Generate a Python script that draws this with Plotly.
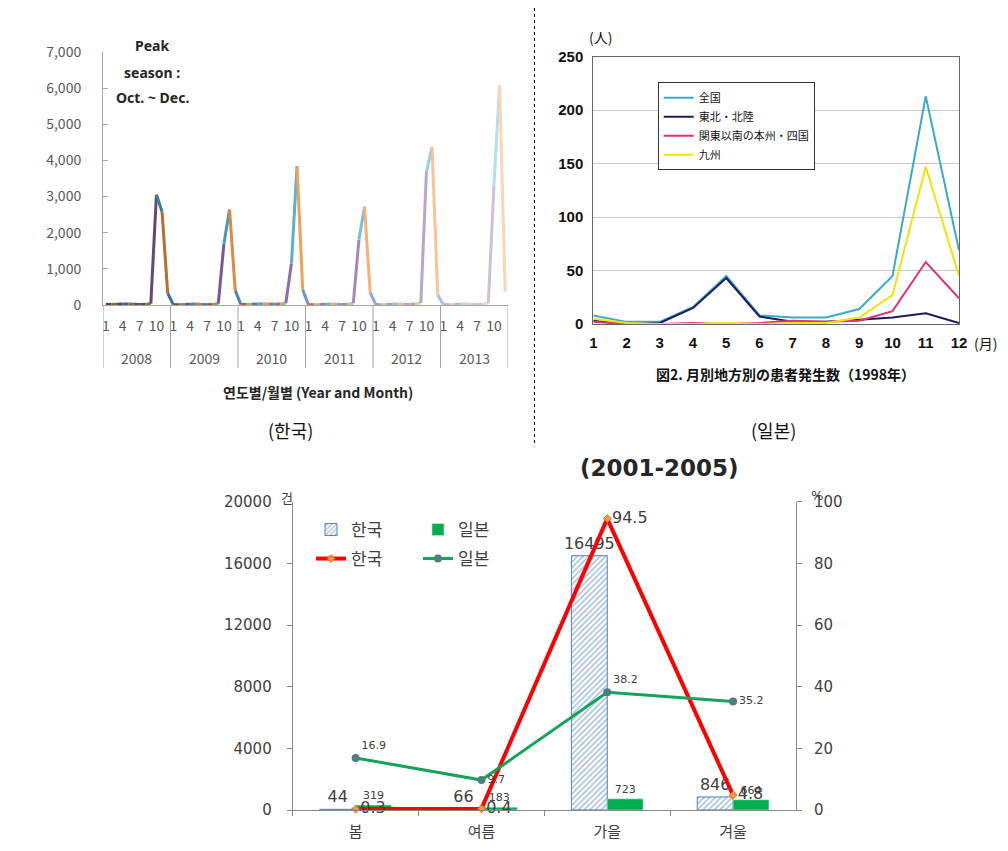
import plotly.graph_objects as go

# page body keeps its default 8px margin, so the figure is 16px smaller than the window
OFF = 8
W, H = 1008 - 2 * OFF, 851 - 2 * OFF
def PX(x): return (x - OFF) / W
def PY(y): return 1 - (y - OFF) / H

# ---------------- Panel 1 data : Korea monthly (2008-2013) ----------------
years = [2008, 2009, 2010, 2011, 2012, 2013]
month_ticks = [1, 4, 7, 10]
kr_2008 = [20, 15, 20, 25, 30, 20, 15, 15, 40, 3050, 2580, 330]
kr_2009 = [10, 10, 15, 20, 25, 15, 10, 15, 40, 1700, 2640, 410]
kr_2010 = [15, 15, 20, 30, 35, 25, 20, 30, 50, 1150, 3840, 430]
kr_2011 = [10, 10, 15, 20, 25, 20, 15, 20, 50, 1810, 2720, 340]
kr_2012 = [10, 10, 15, 20, 30, 20, 15, 25, 60, 3680, 4370, 280]
kr_2013 = [10, 10, 15, 20, 25, 20, 15, 20, 60, 3300, 6080, 370]
kr_monthly = kr_2008 + kr_2009 + kr_2010 + kr_2011 + kr_2012 + kr_2013

# ---------------- Panel 2 data : Japan 1998 by region ----------------
jp_months = list(range(1, 13))
jp_total   = [8, 2, 2, 16, 45, 8, 6, 6, 14, 45, 213, 69]
jp_tohoku  = [3, 0, 1, 15, 43, 7, 2, 2, 4, 6, 10, 1]
jp_kanto   = [2, 0, 0, 1, 0, 1, 3, 2, 3, 12, 58, 24]
jp_kyushu  = [5, 1, 0, 0, 1, 0, 1, 1, 6, 27, 147, 45]
jp_names = ["全国", "東北・北陸", "関東以南の本州・四国", "九州"]

# ---------------- Panel 3 data : seasons 2001-2005 ----------------
seasons = ["봄", "여름", "가을", "겨울"]
kr_cases = [44, 66, 16495, 846]
jp_cases = [319, 183, 723, 664]
kr_pct = [0.3, 0.4, 94.5, 4.8]
jp_pct = [16.9, 9.7, 38.2, 35.2]

KR_FONT = "Noto Sans CJK KR"
JP_FONT = "Noto Sans CJK JP"

fig = go.Figure()

# ---- Panel 1 traces: segment colours vary by point (Excel style) ----
accents = ["#4F81BD", "#C0504D", "#9BBB59", "#8064A2", "#4BACC6", "#F79646"]
def shade(hexc, t):
    r, g, b = int(hexc[1:3], 16), int(hexc[3:5], 16), int(hexc[5:7], 16)
    if t < 0:
        f = 1 + t
        r, g, b = r * f, g * f, b * f
    else:
        r, g, b = r + (255 - r) * t, g + (255 - g) * t, b + (255 - b) * t
    return "rgb(%d,%d,%d)" % (r, g, b)

ncycles = (len(kr_monthly) - 1) // 6
for n in range(1, len(kr_monthly)):
    c = n // 6
    col = shade(accents[n % 6], -0.35 + 0.95 * c / ncycles)
    fig.add_trace(go.Scatter(x=[n - 1, n], y=[kr_monthly[n - 1], kr_monthly[n]],
                             mode="lines", line=dict(color=col, width=3),
                             xaxis="x", yaxis="y", showlegend=False, hoverinfo="skip"))

# ---- Panel 2 traces ----
jp_colors = ["#3AAACC", "#1C1C5C", "#E2307C", "#F4E400"]
for name, vals, col in zip(jp_names, [jp_total, jp_tohoku, jp_kanto, jp_kyushu], jp_colors):
    fig.add_trace(go.Scatter(x=jp_months, y=vals, mode="lines", name=name,
                             line=dict(color=col, width=2), xaxis="x2", yaxis="y2",
                             legend="legend5"))

# ---- Panel 3 traces ----
fig.add_trace(go.Bar(x=seasons, y=kr_cases, name="한국", xaxis="x3", yaxis="y3",
                     marker=dict(color="white", line=dict(color="#4F81BD", width=1),
                                 pattern=dict(shape="/", fgcolor="#4F81BD", bgcolor="white",
                                              size=4, solidity=0.4)),
                     text=[str(v) for v in kr_cases], textposition="outside",
                     textfont=dict(family="DejaVu Sans", size=16, color="#404040"),
                     constraintext="none", cliponaxis=False, legend="legend"))
fig.add_trace(go.Bar(x=seasons, y=jp_cases, name="일본", xaxis="x3", yaxis="y3",
                     marker=dict(color="#00B050"),
                     text=[str(v) for v in jp_cases], textposition="outside",
                     textfont=dict(family="DejaVu Sans", size=11, color="#404040"),
                     constraintext="none", cliponaxis=False, legend="legend2"))
fig.add_trace(go.Scatter(x=seasons, y=kr_pct, name="한국", xaxis="x3", yaxis="y4",
                         mode="lines+markers+text",
                         line=dict(color="#FF0000", width=4),
                         marker=dict(symbol="diamond", size=6, color="#F79646",
                                     line=dict(color="#E46C0A", width=1)),
                         text=[str(v) for v in kr_pct], textposition="middle right",
                         textfont=dict(family="DejaVu Sans", size=16, color="#404040"),
                         cliponaxis=False, legend="legend3"))
fig.add_trace(go.Scatter(x=seasons, y=jp_pct, name="일본", xaxis="x3", yaxis="y4",
                         mode="lines+markers+text",
                         line=dict(color="#12A55A", width=3),
                         marker=dict(symbol="circle", size=8, color="#4E7E80"),
                         text=[str(v) for v in jp_pct],
                         textposition=["top right", "middle right", "top right", "middle right"],
                         textfont=dict(family="DejaVu Sans", size=11, color="#404040"),
                         cliponaxis=False, legend="legend4"))

grey = "#A6A6A6"
ann = []
shapes = []

def note(x, y, text, font, xref="paper"):
    ann.append(dict(x=x if xref != "paper" else PX(x), y=PY(y), xref=xref, yref="paper",
                    text=text, showarrow=False, xanchor="center", yanchor="middle", font=font))

# Panel 1 annotations
for k, yr in enumerate(years):
    note(12 * k + 5.5, 358, str(yr), dict(family=KR_FONT, size=14, color="#595959"), xref="x")
for k in range(len(years) + 1):
    shapes.append(dict(type="line", xref="x", yref="paper", x0=12 * k - 0.5, x1=12 * k - 0.5,
                       y0=PY(305), y1=PY(368), line=dict(color=grey, width=1)))
for txt, yy in [("Peak", 46), ("season :", 72), ("Oct. ~ Dec.", 98)]:
    note(152, yy, "<b>%s</b>" % txt, dict(family="Noto Sans", size=14, color="#262626"))
note(318, 392, "<b>연도별/월별 (Year and Month)</b>", dict(family=KR_FONT, size=14, color="#262626"))
note(290, 430, "(한국)", dict(family=KR_FONT, size=18, color="#111111"))

# Panel 2 annotations
note(600, 37, "(人)", dict(family=JP_FONT, size=14, color="#111111"))
note(985, 343, "(月)", dict(family=JP_FONT, size=14, color="#111111"))
note(785, 374, "<b>図2. 月別地方別の患者発生数（1998年）</b>", dict(family=JP_FONT, size=14, color="#111111"))
note(773, 430, "(일본)", dict(family=KR_FONT, size=18, color="#111111"))

# Panel 3 annotations
note(659, 468, "<b>(2001-2005)</b>", dict(family="DejaVu Sans", size=23, color="#262626"))
note(287, 497, "건", dict(family=KR_FONT, size=13, color="#404040"))
note(817, 495, "%", dict(family="DejaVu Sans", size=13, color="#404040"))

# separator
shapes.append(dict(type="line", xref="paper", yref="paper", x0=PX(534.5), x1=PX(534.5),
                   y0=1, y1=PY(445), line=dict(color="black", width=1, dash="dot")))

leg_common = dict(orientation="h", bgcolor="rgba(0,0,0,0)", xanchor="left", yanchor="middle",
                  font=dict(family=KR_FONT, size=17, color="#404040"))

fig.update_layout(
    width=W, height=H, autosize=False,
    margin=dict(l=0, r=0, t=0, b=0, autoexpand=False),
    paper_bgcolor="white", plot_bgcolor="white",
    barmode="group", bargap=0.43, bargroupgap=0,
    annotations=ann, shapes=shapes,
    xaxis=dict(domain=[PX(103), PX(508)], anchor="y", range=[-0.5, len(kr_monthly) - 0.5],
               tickvals=[12 * k + m - 1 for k in range(len(years)) for m in month_ticks],
               ticktext=[str(m) for k in range(len(years)) for m in month_ticks],
               showline=True, linecolor=grey, ticks="", showgrid=False, zeroline=False,
               ticklabelstandoff=8, automargin=False,
               tickfont=dict(family=KR_FONT, size=14, color="#595959")),
    yaxis=dict(domain=[PY(305), PY(52)], anchor="x", range=[0, 7000], dtick=1000,
               tickformat=",", ticks="inside", ticklen=5, tickcolor=grey,
               showline=True, linecolor=grey, showgrid=False, zeroline=False,
               ticklabelstandoff=18, automargin=False,
               tickfont=dict(family=KR_FONT, size=14, color="#595959")),
    xaxis2=dict(domain=[PX(593.3), PX(959)], anchor="y2", range=[1, 12], tickvals=jp_months,
                showline=True, mirror=True, linecolor="#666666", ticks="", showgrid=False,
                zeroline=False, ticklabelstandoff=5, automargin=False,
                tickfont=dict(family="Liberation Sans", size=15, color="#111111", weight="bold")),
    yaxis2=dict(domain=[PY(324), PY(56.7)], anchor="x2", range=[0, 250], dtick=50,
                showline=True, mirror=True, linecolor="#666666", showgrid=True,
                gridcolor="#C8C8C8", zeroline=False, ticks="", ticklabelstandoff=6,
                automargin=False,
                tickfont=dict(family="Liberation Sans", size=15, color="#111111", weight="bold")),
    xaxis3=dict(domain=[PX(292.7), PX(796)], anchor="y3", type="category",
                showline=True, linecolor="#888888", ticks="outside", ticklen=5,
                tickcolor="#888888", tickson="boundaries", showgrid=False,
                ticklabelstandoff=8, automargin=False,
                tickfont=dict(family=KR_FONT, size=15, color="#404040")),
    yaxis3=dict(domain=[PY(810), PY(501.7)], anchor="x3", range=[0, 20000], dtick=4000,
                tickformat="d", automargin=False,
                showline=True, linecolor="#888888", ticks="outside", ticklen=5,
                tickcolor="#888888", showgrid=False, zeroline=False, ticklabelstandoff=12,
                tickfont=dict(family="DejaVu Sans", size=15, color="#404040")),
    yaxis4=dict(overlaying="y3", side="right", anchor="x3", range=[0, 100], dtick=20,
                showline=True, linecolor="#888888", ticks="outside", ticklen=5,
                tickcolor="#888888", showgrid=False, zeroline=False, ticklabelstandoff=9,
                automargin=False,
                tickfont=dict(family="DejaVu Sans", size=15, color="#404040")),
    legend=dict(x=PX(311), y=PY(530), **leg_common),
    legend2=dict(x=PX(418), y=PY(530), **leg_common),
    legend3=dict(x=PX(311), y=PY(559), **leg_common),
    legend4=dict(x=PX(418), y=PY(559), **leg_common),
    legend5=dict(x=PX(657.7), y=PY(82.3), xanchor="left", yanchor="top", orientation="v",
                 bgcolor="white", bordercolor="#333333", borderwidth=1,
                 font=dict(family=JP_FONT, size=11, color="#111111")),
)

fig.write_html("out.html", config={"displayModeBar": False})
